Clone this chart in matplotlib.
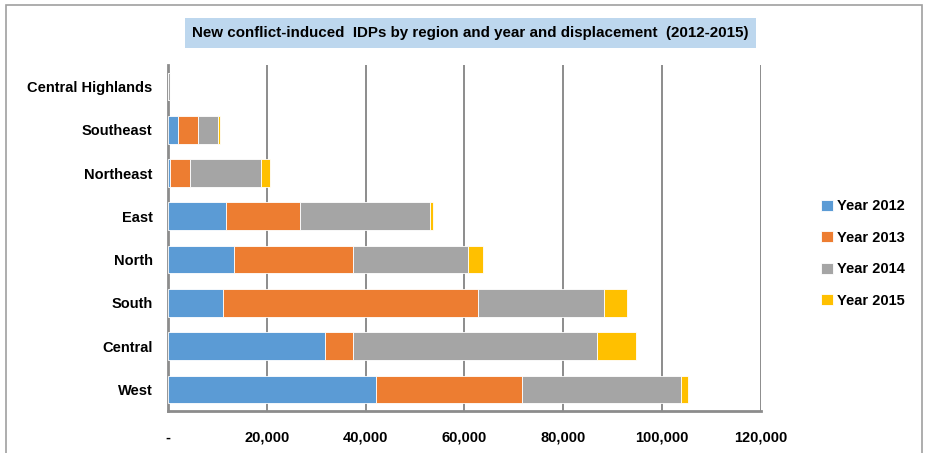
import matplotlib.pyplot as plt
import numpy as np
from matplotlib.patches import Rectangle

regions = ['Central Highlands', 'Southeast', 'Northeast', 'East', 'North', 'South', 'Central', 'West']
year_2012 = [0, 2000, 500, 11800, 13400, 11200, 31800, 42000]
year_2013 = [0, 4100, 4000, 14900, 24100, 51600, 5700, 29700]
year_2014 = [400, 4100, 14300, 26300, 23200, 25400, 49300, 32100]
year_2015 = [0, 300, 1800, 700, 3000, 4600, 7900, 1400]

series = [('Year 2012', year_2012, '#5B9BD5'),
          ('Year 2013', year_2013, '#ED7D31'),
          ('Year 2014', year_2014, '#A5A5A5'),
          ('Year 2015', year_2015, '#FFC000')]

xticks = [0, 20000, 40000, 60000, 80000, 100000, 120000]
xtick_labels = ['-', '20,000', '40,000', '60,000', '80,000', '100,000', '120,000']

plt.rcParams['font.family'] = ['Liberation Sans', 'DejaVu Sans']
plt.rcParams['font.weight'] = 'bold'

fig = plt.figure(figsize=(9.28, 4.53), dpi=100)
ax = fig.add_axes([0.181, 0.0927, 0.639, 0.764])

# outer chart frame
fig.patches.append(Rectangle((0.006, -0.05), 0.988, 1.04, transform=fig.transFigure,
                             fill=False, edgecolor='#A0A0A0', linewidth=1.2))

# y positions: first region on top
y = np.arange(len(regions))[::-1]
left = np.zeros(len(regions))
for name, vals, col in series:
    vals = np.array(vals, dtype=float)
    ax.barh(y, vals, left=left, height=0.64, color=col, edgecolor='white',
            linewidth=0.6, label=name, zorder=3)
    left += vals

ax.set_xlim(0, 120000)
ax.set_ylim(-0.5, len(regions) - 0.5)
ax.set_yticks(y)
ax.set_yticklabels(regions, fontsize=10.5, fontweight='bold')
ax.set_xticks(xticks)
ax.set_xticklabels(xtick_labels, fontsize=10.5, fontweight='bold')
ax.tick_params(axis='both', length=0)
ax.tick_params(axis='x', pad=14)
ax.tick_params(axis='y', pad=11)

ax.grid(axis='x', color='#8C8C8C', linewidth=1.4, zorder=0)
for s in ['top', 'right']:
    ax.spines[s].set_visible(False)
for s in ['left', 'bottom']:
    ax.spines[s].set_color('#8C8C8C')
    ax.spines[s].set_linewidth(2)

fig.text(0.507, 0.927, 'New conflict-induced  IDPs by region and year and displacement  (2012-2015)',
         ha='center', va='center', fontsize=10.9, fontweight='bold',
         bbox=dict(boxstyle='square,pad=0.5', facecolor='#BDD7EE', edgecolor='none'))

handles, labels = ax.get_legend_handles_labels()
leg = fig.legend(handles, labels, loc='center left', bbox_to_anchor=(0.871, 0.44),
                 frameon=False, handlelength=0.8, handleheight=0.8,
                 handletextpad=0.3, labelspacing=1.2, prop={'weight': 'bold', 'size': 10.5})

plt.savefig('out.png', dpi=100)
